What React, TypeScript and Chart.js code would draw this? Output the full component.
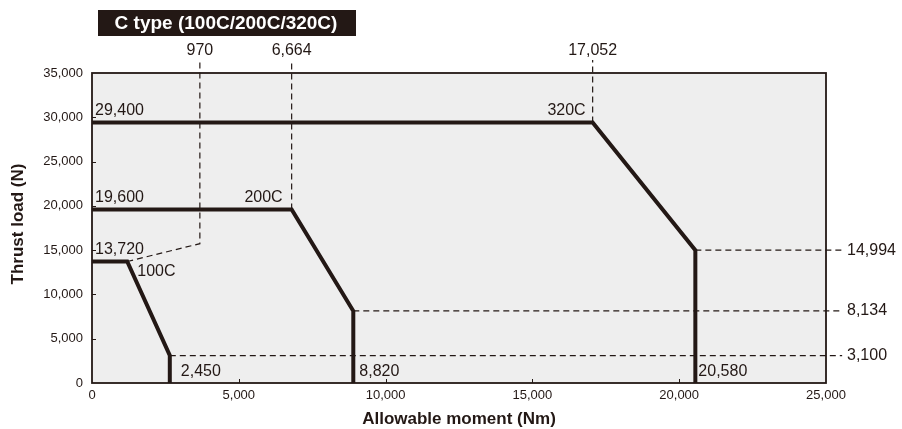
import React, { useEffect, useRef } from "react";
import { Chart, registerables } from "chart.js";

Chart.register(...registerables);

// ---- data ----
const xMin = 0;
const xMax = 25000;
const xStep = 5000;
const yMin = 0;
const yMax = 35000;
const yStep = 5000;

// Envelope curves (Allowable moment Nm, Thrust load N)
const curve100X = [0, 1200, 2650, 2650];
const curve100Y = [13720, 13720, 3100, 0];
const curve200X = [0, 6800, 8900, 8900];
const curve200Y = [19600, 19600, 8134, 0];
const curve320X = [0, 17052, 20550, 20550];
const curve320Y = [29400, 29400, 14994, 0];

// Dashed guide lines
const guide970X = [1200, 3674, 3674];
const guide970Y = [13720, 15730, 36470];
const guide6664X = [6800, 6800];
const guide6664Y = [19600, 36470];
const guide17052X = [17052, 17052];
const guide17052Y = [29400, 36470];
const guide14994X = [20550, 25550];
const guide14994Y = [14994, 14994];
const guide8134X = [8900, 25550];
const guide8134Y = [8134, 8134];
const guide3100X = [2650, 25550];
const guide3100Y = [3100, 3100];

const titleText = "C type (100C/200C/320C)";
const xTitle = "Allowable moment (Nm)";
const yTitle = "Thrust load (N)";

// annotation texts anchored at data points
const topLabels = ["970", "6,664", "17,052"];
const topLabelX = [3674, 6800, 17052];
const rightLabels = ["14,994", "8,134", "3,100"];
const rightLabelY = [14994, 8134, 3100];
const levelLabels = ["29,400", "19,600", "13,720"];
const levelLabelY = [29400, 19600, 13720];
const modelLabels = ["320C", "200C", "100C"];
const modelLabelX = [17052, 6800, 1200];
const modelLabelY = [29400, 19600, 13720];
const bottomLabels = ["2,450", "8,820", "20,580"];
const bottomLabelX = [2650, 8900, 20550];

const INK = "#231815";
const FONT = "'Liberation Sans', Arial, Helvetica, sans-serif";

const pts = (xs: number[], ys: number[]) => xs.map((x, i) => ({ x, y: ys[i] }));

export default function App() {
  const ref = useRef<HTMLCanvasElement | null>(null);

  useEffect(() => {
    if (!ref.current) return;

    const solid = (xs: number[], ys: number[]) => ({
      data: pts(xs, ys),
      borderColor: INK,
      borderWidth: 4,
      pointRadius: 0,
      fill: false,
      tension: 0,
      clip: false as any,
      borderJoinStyle: "miter" as const,
      borderCapStyle: "butt" as const,
    });
    const dashed = (xs: number[], ys: number[]) => ({
      data: pts(xs, ys),
      borderColor: INK,
      borderWidth: 1.2,
      borderDash: [6, 4],
      pointRadius: 0,
      fill: false,
      tension: 0,
      clip: false as any,
    });

    const decor = {
      id: "decor",
      beforeDraw(chart: any) {
        const { ctx, chartArea: a } = chart;
        ctx.save();
        ctx.fillStyle = "#eeeeee";
        ctx.fillRect(a.left, a.top, a.right - a.left, a.bottom - a.top);
        ctx.restore();
      },
      afterDatasetsDraw(chart: any) {
        const { ctx, chartArea: a, scales } = chart;
        const xs = scales.x;
        const ys = scales.y;
        ctx.save();
        // border
        ctx.strokeStyle = INK;
        ctx.lineWidth = 1.8;
        ctx.strokeRect(a.left, a.top, a.right - a.left, a.bottom - a.top);
        // inner ticks
        ctx.lineWidth = 1;
        for (let v = xMin + xStep; v < xMax; v += xStep) {
          const px = Math.round(xs.getPixelForValue(v)) + 0.5;
          ctx.beginPath();
          ctx.moveTo(px, a.bottom);
          ctx.lineTo(px, a.bottom - 4);
          ctx.stroke();
        }
        for (let v = yMin + yStep; v < yMax; v += yStep) {
          const py = Math.round(ys.getPixelForValue(v)) + 0.5;
          ctx.beginPath();
          ctx.moveTo(a.left, py);
          ctx.lineTo(a.left + 4, py);
          ctx.stroke();
        }

        ctx.fillStyle = INK;
        ctx.font = `16px ${FONT}`;
        ctx.textBaseline = "middle";

        // top labels
        ctx.textAlign = "center";
        topLabels.forEach((t, i) => {
          ctx.fillText(t, xs.getPixelForValue(topLabelX[i]), 51);
        });
        // right labels
        ctx.textAlign = "left";
        rightLabels.forEach((t, i) => {
          ctx.fillText(t, 847, ys.getPixelForValue(rightLabelY[i]));
        });
        // level labels
        levelLabels.forEach((t, i) => {
          ctx.fillText(t, a.left + 3, ys.getPixelForValue(levelLabelY[i]) - 12);
        });
        // model labels
        const m320x = xs.getPixelForValue(modelLabelX[0]);
        const m320y = ys.getPixelForValue(modelLabelY[0]);
        ctx.textAlign = "right";
        ctx.fillText(modelLabels[0], m320x - 7, m320y - 12);
        const m200x = xs.getPixelForValue(modelLabelX[1]);
        const m200y = ys.getPixelForValue(modelLabelY[1]);
        ctx.fillText(modelLabels[1], m200x - 9, m200y - 12);
        const m100x = xs.getPixelForValue(modelLabelX[2]);
        const m100y = ys.getPixelForValue(modelLabelY[2]);
        ctx.textAlign = "left";
        ctx.fillText(modelLabels[2], m100x + 10, m100y + 10);
        // bottom labels
        const bOff = [11, 6, 3];
        bottomLabels.forEach((t, i) => {
          ctx.fillText(t, xs.getPixelForValue(bottomLabelX[i]) + bOff[i], a.bottom - 11);
        });

        // title box
        ctx.fillStyle = INK;
        ctx.fillRect(98, 10, 258, 26);
        ctx.fillStyle = "#ffffff";
        ctx.font = `bold 19px ${FONT}`;
        ctx.textAlign = "center";
        ctx.fillText(titleText, 226, 23.5);

        // axis titles
        ctx.fillStyle = INK;
        ctx.font = `bold 17px ${FONT}`;
        ctx.fillText(xTitle, (a.left + a.right) / 2, 419);
        ctx.save();
        ctx.translate(18, (a.top + a.bottom) / 2 - 4);
        ctx.rotate(-Math.PI / 2);
        ctx.fillText(yTitle, 0, 0);
        ctx.restore();

        ctx.restore();
      },
    };

    const chart = new Chart(ref.current, {
      type: "line",
      data: {
        datasets: [
          solid(curve320X, curve320Y),
          solid(curve200X, curve200Y),
          solid(curve100X, curve100Y),
          dashed(guide970X, guide970Y),
          dashed(guide6664X, guide6664Y),
          dashed(guide17052X, guide17052Y),
          dashed(guide14994X, guide14994Y),
          dashed(guide8134X, guide8134Y),
          dashed(guide3100X, guide3100Y),
        ] as any,
      },
      options: {
        animation: false,
        responsive: true,
        maintainAspectRatio: false,
        layout: { padding: { top: 73, right: 76, left: 0, bottom: 0 } },
        plugins: {
          legend: { display: false },
          tooltip: { enabled: false },
        },
        scales: {
          x: {
            type: "linear",
            min: xMin,
            max: xMax,
            grid: { display: false, drawTicks: false },
            border: { display: false },
            ticks: {
              stepSize: xStep,
              padding: 5,
              color: INK,
              font: { size: 13, family: FONT },
              maxRotation: 0,
              callback: (v: any) => Number(v).toLocaleString("en-US"),
            },
            afterFit: (s: any) => {
              s.height = 46;
            },
          },
          y: {
            type: "linear",
            min: yMin,
            max: yMax,
            grid: { display: false, drawTicks: false },
            border: { display: false },
            ticks: {
              stepSize: yStep,
              padding: 9,
              color: INK,
              font: { size: 13, family: FONT },
              callback: (v: any) => Number(v).toLocaleString("en-US"),
            },
            afterFit: (s: any) => {
              s.width = 92;
            },
          },
        },
      },
      plugins: [decor],
    });
    return () => chart.destroy();
  }, []);

  return (
    <div style={{ position: "fixed", left: 0, top: 0, width: 902, height: 429, background: "#ffffff" }}>
      <canvas ref={ref} />
    </div>
  );
}
